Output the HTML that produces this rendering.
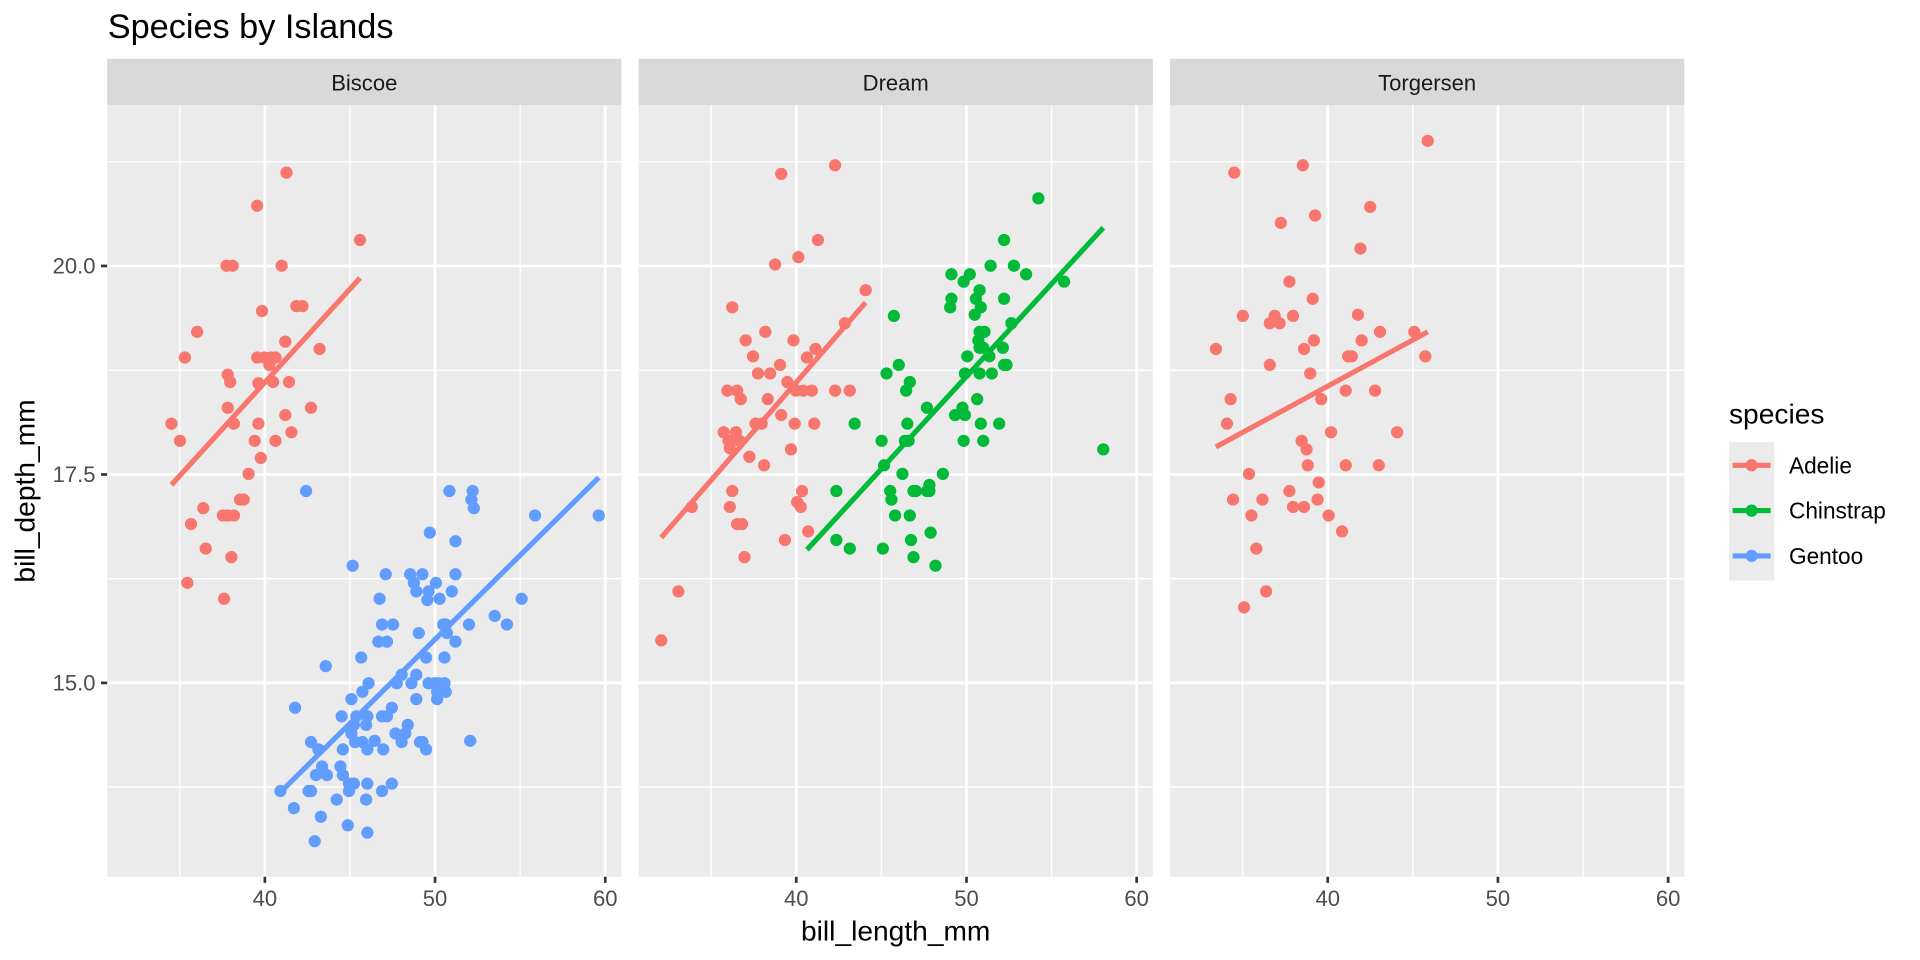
<!DOCTYPE html>
<html><head><meta charset="utf-8"><style>
html,body{margin:0;padding:0;background:#fff;}
svg{display:block;font-family:"Liberation Sans",sans-serif;}
</style></head><body>
<svg width="1920" height="960" viewBox="0 0 1568 784" xmlns="http://www.w3.org/2000/svg">
<rect width="1568" height="784" fill="#fff"/>
<text x="88" y="31" font-size="28" fill="#000">Species by Islands</text>
<defs>
<g id="panel">
<rect x="0" y="48" width="420" height="38" fill="#D9D9D9"/>
<rect x="0" y="86" width="420" height="630" fill="#EBEBEB"/>
<g stroke="#fff" stroke-width="1.1">
<line x1="0" x2="420" y1="642.6" y2="642.6"/><line x1="0" x2="420" y1="472.6" y2="472.6"/><line x1="0" x2="420" y1="302.4" y2="302.4"/><line x1="0" x2="420" y1="132.1" y2="132.1"/>
<line x1="59.3" x2="59.3" y1="86" y2="716"/><line x1="198.3" x2="198.3" y1="86" y2="716"/><line x1="337.3" x2="337.3" y1="86" y2="716"/>
</g>
<g stroke="#fff" stroke-width="2.2">
<line x1="0" x2="420" y1="557.7" y2="557.7"/><line x1="0" x2="420" y1="387.5" y2="387.5"/><line x1="0" x2="420" y1="217.2" y2="217.2"/>
<line x1="128.8" x2="128.8" y1="86" y2="716"/><line x1="267.8" x2="267.8" y1="86" y2="716"/><line x1="406.8" x2="406.8" y1="86" y2="716"/>
</g>
<g stroke="#333" stroke-width="2.2">
<line x1="128.8" x2="128.8" y1="716" y2="721"/><line x1="267.8" x2="267.8" y1="716" y2="721"/><line x1="406.8" x2="406.8" y1="716" y2="721"/>
</g>
<g font-size="18" fill="#4D4D4D" text-anchor="middle">
<text x="128.8" y="740">40</text><text x="267.8" y="740">50</text><text x="406.8" y="740">60</text>
</g>
</g>
</defs>
<use href="#panel" x="87.5"/>
<use href="#panel" x="521.5"/>
<use href="#panel" x="955.5"/>
<g font-size="18" fill="#1A1A1A" text-anchor="middle">
<text x="297.5" y="74">Biscoe</text><text x="731.5" y="74">Dream</text><text x="1165.5" y="74">Torgersen</text>
</g>
<g stroke="#333" stroke-width="2.2">
<line x1="82.5" x2="87.5" y1="217.2" y2="217.2"/><line x1="82.5" x2="87.5" y1="387.5" y2="387.5"/><line x1="82.5" x2="87.5" y1="557.7" y2="557.7"/>
</g>
<g font-size="18" fill="#4D4D4D" text-anchor="end">
<text x="78" y="223.5">20.0</text><text x="78" y="393.8">17.5</text><text x="78" y="564">15.0</text>
</g>
<text x="731.5" y="768" font-size="23" text-anchor="middle" fill="#000">bill_length_mm</text>
<text transform="translate(28,401) rotate(-90)" font-size="23" text-anchor="middle" fill="#000">bill_depth_mm</text>

<g fill="none" stroke-linecap="round" stroke-width="10">
<path stroke="#F8766D" d="M234 141h0M210 168h0M185 217h0M190 217h0M230 217h0M294 196h0M214 254h0M242 250h0M247 250h0M161 271h0M151 292h0M233 279h0M261 285h0M210 292h0M216 292h0M221 292h0M225 292h0M220 298h0M223 312h0M236 312h0M186 306h0M188 312h0M211 313h0M254 333h0M186 333h0M233 339h0M140 346h0M211 346h0M191 346h0M238 353h0M147 360h0M225 360h0M208 360h0M213 374h0M203 387h0M199 408h0M196 408h0M166 415h0M182 421h0M186 421h0M191 421h0M156 428h0M168 448h0M189 455h0M183 489h0M153 476h0"/>
<path stroke="#619CFF" d="M250 401h0M386 401h0M367 401h0M387 415h0M385 408h0M489 421h0M437 421h0M351 435h0M288 462h0M426 489h0M372 442h0M315 469h0M335 469h0M345 469h0M338 476h0M356 476h0M340 483h0M350 483h0M372 469h0M369 483h0M359 489h0M310 489h0M349 490h0M404 503h0M414 510h0M312 510h0M321 510h0M362 510h0M364 510h0M383 510h0M342 517h0M365 517h0M372 524h0M309 524h0M316 524h0M295 537h0M266 544h0M348 537h0M363 537h0M328 551h0M336 558h0M340 551h0M358 558h0M350 558h0M355 558h0M363 558h0M324 558h0M301 558h0M296 565h0M357 565h0M364 565h0M357 571h0M287 571h0M241 578h0M320 578h0M340 571h0M300 585h0M279 585h0M291 585h0M312 585h0M316 585h0M289 592h0M299 592h0M333 592h0M331 599h0M323 599h0M328 606h0M343 606h0M287 599h0M306 605h0M254 606h0M260 612h0M290 606h0M296 606h0M313 612h0M280 612h0M300 612h0M263 626h0M278 626h0M258 633h0M267 633h0M280 633h0M289 640h0M285 640h0M320 640h0M312 646h0M300 640h0M229 646h0M252 646h0M254 646h0M275 653h0M299 653h0M285 646h0M240 660h0M262 667h0M284 674h0M300 680h0M257 687h0M348 612h0M345 606h0M384 605h0"/>
<path stroke="#F8766D" d="M682 135h0M638 142h0M668 196h0M652 210h0M633 216h0M598 251h0M707 237h0M690 264h0M625 271h0M609 278h0M648 278h0M666 285h0M615 291h0M637 298h0M659 292h0M643 312h0M619 305h0M629 305h0M594 319h0M602 319h0M656 319h0M663 319h0M682 319h0M694 319h0M605 326h0M627 326h0M650 319h0M591 353h0M601 353h0M617 346h0M622 346h0M595 360h0M604 360h0M649 346h0M665 346h0M638 339h0M596 366h0M612 373h0M624 380h0M646 367h0M598 401h0M655 401h0M654 414h0M651 410h0M565 414h0M596 414h0M602 428h0M606 428h0M641 441h0M660 434h0M608 455h0M554 483h0M540 523h0"/>
<path stroke="#00BA38" d="M848 162h0M820 196h0M777 224h0M792 224h0M809 217h0M828 217h0M800 237h0M787 230h0M838 224h0M869 230h0M777 244h0M797 244h0M820 244h0M801 251h0M730 258h0M796 257h0M776 251h0M826 264h0M800 271h0M804 271h0M800 284h0M803 284h0M808 291h0M800 305h0M810 305h0M822 298h0M799 278h0M820 298h0M790 291h0M819 284h0M724 305h0M743 312h0M788 305h0M740 319h0M734 298h0M798 326h0M786 333h0M757 333h0M780 339h0M788 339h0M698 346h0M741 346h0M801 346h0M816 346h0M787 360h0M803 360h0M739 360h0M742 360h0M720 360h0M722 380h0M770 387h0M737 387h0M746 401h0M683 401h0M727 401h0M748 401h0M757 401h0M728 408h0M759 401h0M743 421h0M731 421h0M744 441h0M721 448h0M760 435h0M683 441h0M694 448h0M746 455h0M764 462h0M901 367h0M759 396h0"/>
<path stroke="#F8766D" d="M1166 115h0M1008 141h0M1064 135h0M1119 169h0M1074 176h0M1046 182h0M1111 203h0M1015 258h0M1041 258h0M1056 258h0M1072 244h0M1053 230h0M993 285h0M1037 264h0M1045 264h0M1073 278h0M1112 278h0M1127 271h0M1155 271h0M1109 257h0M1037 298h0M1065 285h0M1164 291h0M1070 305h0M1104 291h0M1101 291h0M1005 326h0M1079 326h0M1099 319h0M1123 319h0M1002 346h0M1087 353h0M1141 353h0M1063 360h0M1067 367h0M1126 380h0M1099 380h0M1020 387h0M1068 380h0M1053 401h0M1077 394h0M1007 408h0M1031 408h0M1076 408h0M1065 414h0M1056 414h0M1085 421h0M1022 421h0M1096 434h0M1026 448h0M1034 483h0M1016 496h0"/>
</g>
<g stroke-width="4.2" stroke-linecap="butt">
<line x1="140" y1="396" x2="294" y2="227" stroke="#F8766D"/>
<line x1="228" y1="648" x2="489" y2="390" stroke="#619CFF"/>
<line x1="540" y1="439" x2="707" y2="247" stroke="#F8766D"/>
<line x1="659" y1="449" x2="901" y2="186" stroke="#00BA38"/>
<line x1="993" y1="365" x2="1166" y2="271" stroke="#F8766D"/>
</g>

<text x="1412" y="346" font-size="23" fill="#000">species</text>
<rect x="1412" y="361" width="37" height="113" fill="#EBEBEB"/>
<g stroke-width="4.2">
<line x1="1415" x2="1446" y1="380" y2="380" stroke="#F8766D"/><circle cx="1430.5" cy="380" r="5" fill="#F8766D"/>
<line x1="1415" x2="1446" y1="417" y2="417" stroke="#00BA38"/><circle cx="1430.5" cy="417" r="5" fill="#00BA38"/>
<line x1="1415" x2="1446" y1="454" y2="454" stroke="#619CFF"/><circle cx="1430.5" cy="454" r="5" fill="#619CFF"/>
</g>
<g font-size="18.5" fill="#000">
<text x="1461" y="386.5">Adelie</text><text x="1461" y="423.5">Chinstrap</text><text x="1461" y="460.5">Gentoo</text>
</g>
</svg>
</body></html>
